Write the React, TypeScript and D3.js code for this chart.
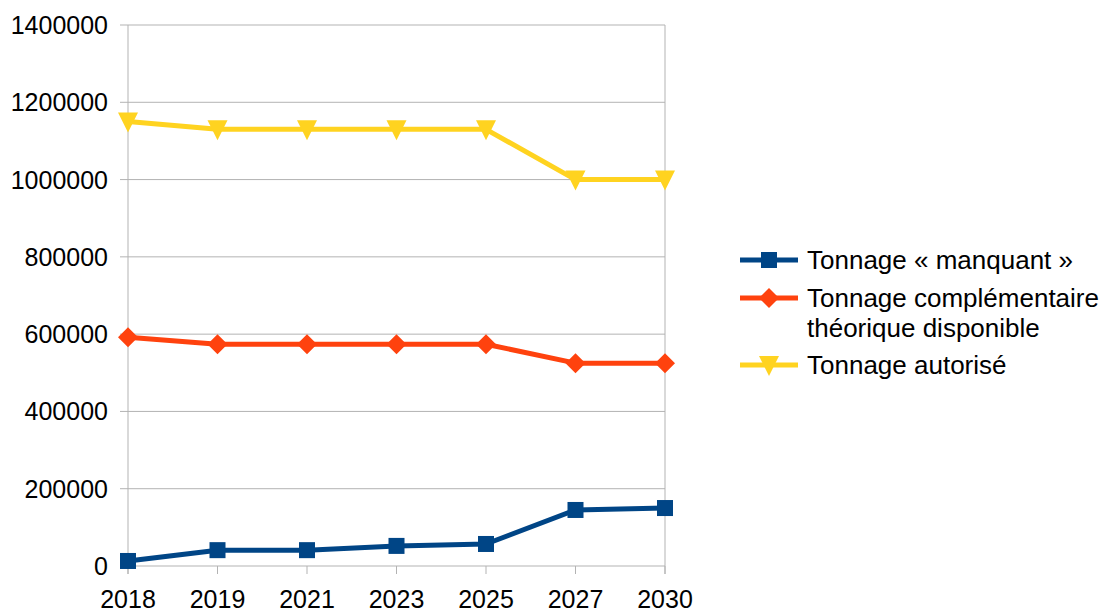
import React from "react";
import * as d3 from "d3";

const categories = ["2018", "2019", "2021", "2023", "2025", "2027", "2030"];
const manquant = [13000, 41000, 41000, 52000, 57000, 145000, 150000];
const complementaire = [592000, 574000, 574000, 574000, 574000, 525000, 525000];
const autorise = [1150000, 1130000, 1130000, 1130000, 1130000, 1000000, 1000000];
const yTicks = [0, 200000, 400000, 600000, 800000, 1000000, 1200000, 1400000];

const seriesList = [
  { name: ["Tonnage « manquant »"], values: manquant, color: "#004586", marker: "square" },
  { name: ["Tonnage complémentaire", "théorique disponible"], values: complementaire, color: "#ff420e", marker: "diamond" },
  { name: ["Tonnage autorisé"], values: autorise, color: "#ffd320", marker: "triangle" },
];

const W = 1102, H = 612;
const left = 128, right = 665, top = 25, bottom = 566;
const font = "'Liberation Sans', Arial, sans-serif";

function Marker({ type, x, y, color }: { type: string; x: number; y: number; color: string }) {
  if (type === "square") return <rect x={x - 8} y={y - 8} width={16} height={16} fill={color} />;
  if (type === "diamond") {
    return <path d={`M${x},${y - 10}L${x + 10},${y}L${x},${y + 10}L${x - 10},${y}Z`} fill={color} />;
  }
  return <path d={`M${x - 10},${y - 9}L${x + 10},${y - 9}L${x},${y + 11}Z`} fill={color} />;
}

export default function App() {
  const x = d3.scalePoint<string>().domain(categories).range([left, right]);
  const y = d3.scaleLinear().domain([0, 1400000]).range([bottom, top]);
  const line = d3.line<number>().x((_, i) => x(categories[i]) as number).y((d) => y(d));
  const legendY = [260, 298, 365];

  return (
    <svg width={W} height={H} style={{ position: "absolute", left: 0, top: 0 }}>
      <rect width={W} height={H} fill="#ffffff" />
      {yTicks.map((t) => (
        <g key={t}>
          <line x1={left - 8} x2={right} y1={y(t)} y2={y(t)} stroke="#b3b3b3" strokeWidth={1} />
          <text x={108} y={y(t)} dy="0.36em" textAnchor="end" fontFamily={font} fontSize={25} fill="#000">
            {t}
          </text>
        </g>
      ))}
      <line x1={left} x2={left} y1={top} y2={bottom + 8} stroke="#b3b3b3" />
      <line x1={right} x2={right} y1={top} y2={bottom + 8} stroke="#b3b3b3" />
      {categories.map((c) => (
        <g key={c}>
          <line x1={x(c)} x2={x(c)} y1={bottom} y2={bottom + 8} stroke="#b3b3b3" />
          <text x={x(c)} y={608} textAnchor="middle" fontFamily={font} fontSize={25} fill="#000">
            {c}
          </text>
        </g>
      ))}
      {seriesList.map((s) => (
        <g key={s.name[0]}>
          <path d={line(s.values) as string} fill="none" stroke={s.color} strokeWidth={5} strokeLinejoin="round" />
          {s.values.map((v, i) => (
            <Marker key={i} type={s.marker} x={x(categories[i]) as number} y={y(v)} color={s.color} />
          ))}
        </g>
      ))}
      {seriesList.map((s, k) => (
        <g key={"lg" + k}>
          <line x1={740} x2={798} y1={legendY[k]} y2={legendY[k]} stroke={s.color} strokeWidth={5} />
          <Marker type={s.marker} x={769} y={legendY[k]} color={s.color} />
          {s.name.map((n, j) => (
            <text key={j} x={807} y={legendY[k] + j * 30} dy="0.36em" fontFamily={font} fontSize={26} fill="#000">
              {n}
            </text>
          ))}
        </g>
      ))}
    </svg>
  );
}
